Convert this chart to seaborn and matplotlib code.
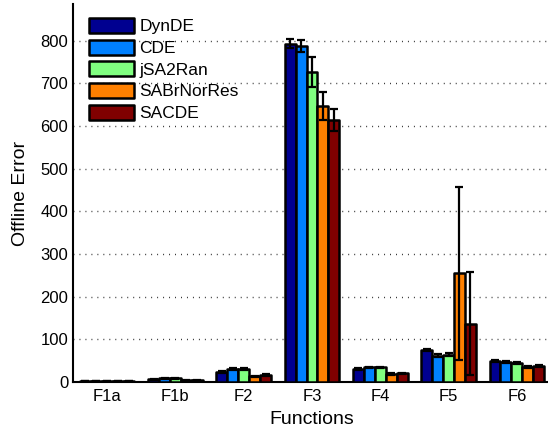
import matplotlib
matplotlib.use("Agg")
import matplotlib.pyplot as plt
import seaborn as sns
import pandas as pd
import numpy as np

functions = ["F1a", "F1b", "F2", "F3", "F4", "F5", "F6"]
algorithms = ["DynDE", "CDE", "jSA2Ran", "SABrNorRes", "SACDE"]

DynDE = [3, 6, 24, 793, 30, 75, 50]
CDE = [3, 9, 31, 787, 34, 62, 47]
jSA2Ran = [3, 9, 30, 727, 34, 64, 44]
SABrNorRes = [2, 4, 13, 647, 18, 255, 35]
SACDE = [2, 4, 17, 615, 20, 137, 37]

DynDE_err = [0.5, 1, 2, 10, 2, 3, 2]
CDE_err = [0.5, 1, 2, 14, 2, 3, 2]
jSA2Ran_err = [0.5, 1, 2, 35, 2, 3, 2]
SABrNorRes_err = [0.5, 1, 2, 33, 2, 203, 2]
SACDE_err = [0.5, 1, 2, 26, 2, 120, 2]

colors = ["#000090", "#0080FF", "#80FF80", "#FF8000", "#800000"]

values = [DynDE, CDE, jSA2Ran, SABrNorRes, SACDE]
errors = [DynDE_err, CDE_err, jSA2Ran_err, SABrNorRes_err, SACDE_err]

rows = []
for alg, vals in zip(algorithms, values):
    for f, v in zip(functions, vals):
        rows.append({"Function": f, "Error": v, "Algorithm": alg})
df = pd.DataFrame(rows)

sns.set_style("white")
plt.rcParams["font.family"] = ["Liberation Sans", "DejaVu Sans"]
plt.rcParams["text.color"] = "black"
plt.rcParams["axes.labelcolor"] = "black"
plt.rcParams["xtick.color"] = "black"
plt.rcParams["ytick.color"] = "black"

fig = plt.figure(figsize=(5.48, 4.30), dpi=100)
ax = fig.add_axes([73 / 548, 48 / 430, (551 - 73) / 548, (382 - 4) / 430])

sns.barplot(data=df, x="Function", y="Error", hue="Algorithm",
            order=functions, hue_order=algorithms, palette=colors,
            saturation=1, width=0.8, edgecolor="black", linewidth=1.8,
            errorbar=None, ax=ax, zorder=3)

for p in ax.patches:
    p.set_joinstyle("round")

for cont, errs in zip(ax.containers, errors):
    xs = [b.get_x() + b.get_width() / 2 for b in cont]
    ys = [b.get_height() for b in cont]
    ax.errorbar(xs, ys, yerr=errs, fmt="none", ecolor="black",
                elinewidth=1.6, capsize=2.6, capthick=1.6, zorder=5)

ax.set_ylim(0, 886)
ax.set_xlim(-0.5, 6.5)
ax.set_yticks(np.arange(0, 801, 100))
ax.yaxis.grid(True, linestyle=(0, (0.7, 3.6)), color="#333333", linewidth=1.0)
ax.set_axisbelow(True)

for s in ["top", "right"]:
    ax.spines[s].set_visible(False)
for s in ["left", "bottom"]:
    ax.spines[s].set_linewidth(1.5)
    ax.spines[s].set_color("black")

ax.tick_params(axis="y", direction="in", length=4, width=1.2, labelsize=12, pad=3.4,
               colors="black")
ax.tick_params(axis="x", length=0, labelsize=12, pad=5, colors="black")
ax.set_xlabel("Functions", fontsize=14, labelpad=5, color="black")
ax.set_ylabel("Offline Error", fontsize=14, labelpad=8, color="black")

handles, labels = ax.get_legend_handles_labels()
if ax.get_legend() is not None:
    ax.get_legend().remove()
leg = ax.legend(handles, labels, loc="upper left",
                bbox_to_anchor=(16 / 478, 1 - 14 / 378),
                frameon=False, fontsize=12.5, handlelength=2.6,
                handleheight=0.95, handletextpad=0.3, labelspacing=0.3,
                borderaxespad=0, borderpad=0)
for h in leg.legend_handles:
    h.set_edgecolor("black")
    h.set_linewidth(1.8)
    h.set_joinstyle("round")
for t in leg.get_texts():
    t.set_color("black")

fig.savefig("out.png", dpi=100)
